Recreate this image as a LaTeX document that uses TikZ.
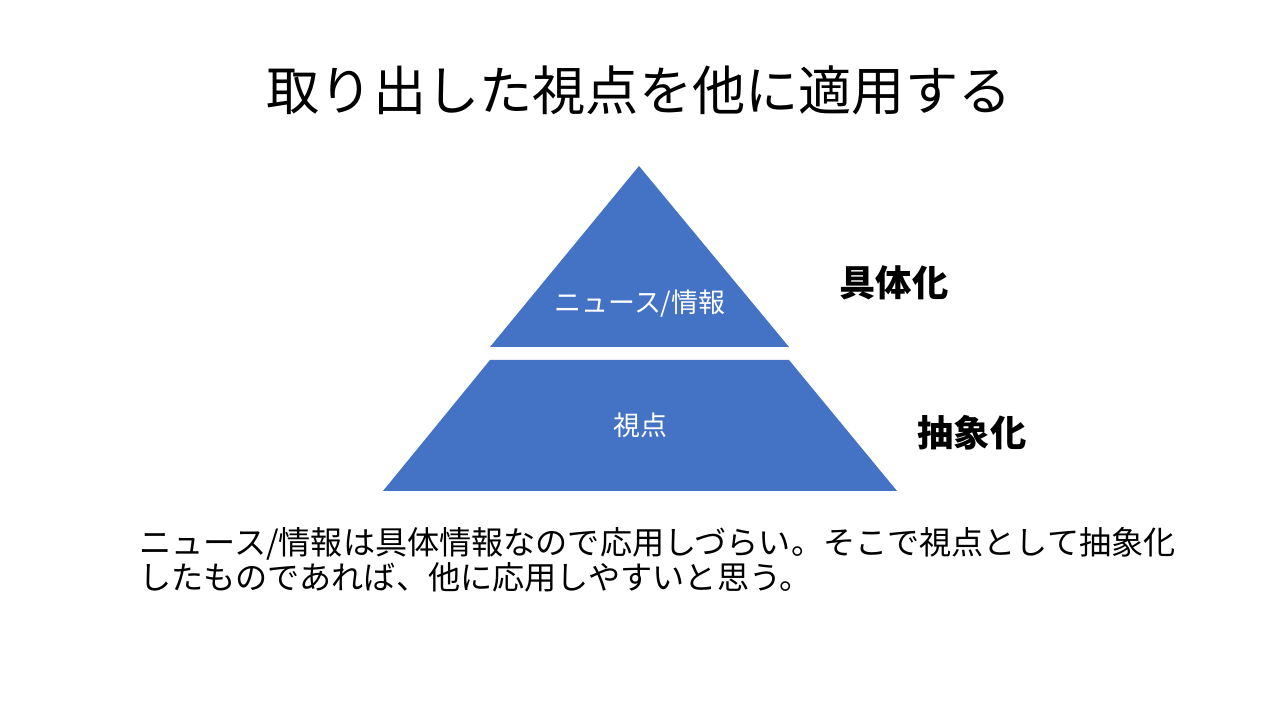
\documentclass[tikz,border=0pt]{standalone}
\usepackage{fontspec}
\setmainfont{Noto Sans CJK JP}
\definecolor{pyrblue}{HTML}{4472C4}

\begin{document}
\begin{tikzpicture}[x=0.75pt,y=0.75pt,
    every node/.style={inner sep=0pt},
    layer/.style={fill=pyrblue},
    inlabel/.style={text=white, font=\fontsize{20.2}{24}\selectfont},
    sidelabel/.style={font=\fontsize{27.2}{32}\selectfont\bfseries}]
  \useasboundingbox (0,0) rectangle (1280,720);
  \coordinate (apex) at (639,554);
  \coordinate (topL) at (490,373);
  \coordinate (topR) at (789,373);
  \coordinate (midL) at (490,360);
  \coordinate (midR) at (789,360);
  \coordinate (botL) at (383,229);
  \coordinate (botR) at (897,229);
  \fill[layer] (apex) -- (topR) -- (topL) -- cycle;
  \fill[layer] (midL) -- (midR) -- (botR) -- (botL) -- cycle;
  \node[font=\fontsize{39.9}{46}\selectfont] (title) at (639,630) {取り出した視点を他に適用する};
  \node[inlabel] (news) at (640,416) {ニュース/情報};
  \node[inlabel] (view) at (640,295) {視点};
  \node[sidelabel] (concrete) at (894,437) {具体化};
  \node[sidelabel] (abstract) at (972,287) {抽象化};
  \node[anchor=west, align=left, font=\fontsize{24.1}{26.3}\selectfont] (note) at (139,160)
    {ニュース/情報は具体情報なので応用しづらい。そこで視点として抽象化\\したものであれば、他に応用しやすいと思う。};
\end{tikzpicture}
\end{document}
